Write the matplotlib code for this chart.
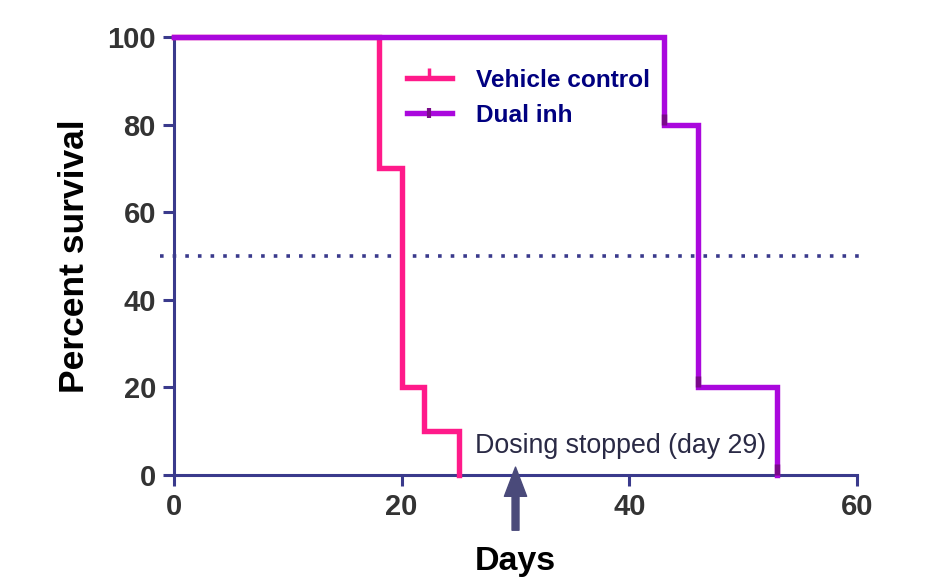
import matplotlib.pyplot as plt
from matplotlib.lines import Line2D

plt.rcParams['font.family'] = ['Liberation Sans', 'DejaVu Sans']

# survival data (Kaplan-Meier steps)
vehicle_days = [0, 18, 20, 22, 25]
vehicle_surv = [100, 70, 20, 10, 0]
dual_days = [0, 43, 46, 53]
dual_surv = [100, 80, 20, 0]
dual_marks_days = [43, 46, 53]
dual_marks_surv = [80, 20, 0]

x_ticks = [0, 20, 40, 60]
y_ticks = [0, 20, 40, 60, 80, 100]
dosing_day = 30

pink = '#ff1a8a'
purple = '#aa08dd'
dark_purple = '#7a0a8a'
navy = '#3a3a8c'

fig = plt.figure(figsize=(9.34, 5.81), dpi=100)
ax = fig.add_axes([0.1863, 0.1824, 0.7313, 0.7539])

ax.plot([-1.2, 60.3], [50, 50], color=navy, lw=2.6, linestyle=(0, (1, 2.5)),
        clip_on=False, zorder=1)

ax.step(vehicle_days, vehicle_surv, where='post', color=pink, lw=3.9,
        solid_joinstyle='miter', clip_on=False, zorder=3)
ax.step(dual_days, dual_surv, where='post', color=purple, lw=3.9,
        solid_joinstyle='miter', clip_on=False, zorder=4)
ax.plot(dual_marks_days, dual_marks_surv, linestyle='none', marker=2,
        markersize=8, mew=3.9, color=dark_purple, clip_on=False, zorder=5)

ax.set_xlim(0, 60)
ax.set_ylim(0, 100)
ax.set_xticks(x_ticks)
ax.set_yticks(y_ticks)

for side in ['top', 'right']:
    ax.spines[side].set_visible(False)
for side in ['left', 'bottom']:
    ax.spines[side].set_color(navy)
    ax.spines[side].set_linewidth(2.2)
    ax.spines[side].set_zorder(2)

ax.tick_params(axis='both', colors=navy, width=2.2, length=8, pad=5,
               labelcolor='#333333', labelsize=21)
for lab in ax.get_xticklabels() + ax.get_yticklabels():
    lab.set_fontweight('bold')

ax.set_ylabel('Percent survival', fontsize=25.5, fontweight='bold', labelpad=12)
ax.set_xlabel('Days', fontsize=24.5, fontweight='bold', labelpad=18)

handles = [
    Line2D([0], [0], color=pink, lw=3.9, marker=2, markersize=7, mew=2.5,
           markerfacecolor=pink, markeredgecolor=pink),
    Line2D([0], [0], color=purple, lw=3.9, marker='|', markersize=7, mew=3,
           markeredgecolor=dark_purple),
]
leg = ax.legend(handles, ['Vehicle control', 'Dual inh'], loc='upper left',
                bbox_to_anchor=(0.341, 0.928), frameon=False, fontsize=17.6,
                handlelength=1.84, handletextpad=1.0, labelspacing=0.5,
                borderaxespad=0, borderpad=0)
for t in leg.get_texts():
    t.set_color('#000080')
    t.set_fontweight('bold')

ax.text(26.4, 6.6, 'Dosing stopped (day 29)', fontsize=19.3, color='#2a2a45',
        ha='left', va='center')
ax.annotate('', xy=(dosing_day, 1.8), xytext=(dosing_day, -12.6),
            xycoords='data', textcoords='data', annotation_clip=False,
            arrowprops=dict(facecolor='#4a4a7a', edgecolor='#4a4a7a',
                            width=5, headwidth=16, headlength=21, shrink=0))

fig.savefig('out.png', dpi=100)
